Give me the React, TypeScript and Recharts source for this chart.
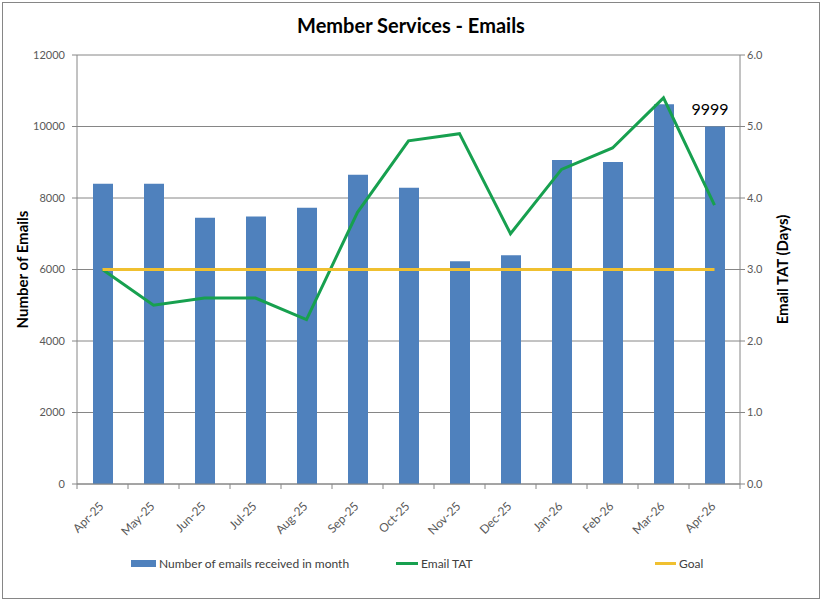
import { Bar, CartesianGrid, ComposedChart, Label, Legend, Line, XAxis, YAxis } from "recharts"

const months = [
  "Apr-25", "May-25", "Jun-25", "Jul-25", "Aug-25", "Sep-25", "Oct-25",
  "Nov-25", "Dec-25", "Jan-26", "Feb-26", "Mar-26", "Apr-26",
]
const emailsReceived = [8400, 8400, 7450, 7480, 7730, 8650, 8290, 6230, 6400, 9060, 9010, 10620, 9999]
const emailTat = [3.0, 2.5, 2.6, 2.6, 2.3, 3.8, 4.8, 4.9, 3.5, 4.4, 4.7, 5.4, 3.9]
const tatGoal = [3.0, 3.0, 3.0, 3.0, 3.0, 3.0, 3.0, 3.0, 3.0, 3.0, 3.0, 3.0, 3.0]
const emailTicks = [0, 2000, 4000, 6000, 8000, 10000, 12000]
const tatTicks = [0, 1, 2, 3, 4, 5, 6]

const data = months.map((month, i) => ({
  month,
  emails: emailsReceived[i],
  tat: emailTat[i],
  goal: tatGoal[i],
}))

const WIDTH = 822
const HEIGHT = 601
const LEFT_AXIS_W = 77
const RIGHT_AXIS_W = 82
const BAND = (WIDTH - LEFT_AXIS_W - RIGHT_AXIS_W) / months.length

const FONT = "Lato, 'Open Sans', sans-serif"
const GRID = "#868686"
const INK = "#595959"
const BLUE = "#4F81BD"
const GREEN = "#17A04F"
const GOLD = "#F0C030"

// month labels slanted at 45deg, with tick marks on the category boundaries
function MonthTick(props: any) {
  const { x, y, payload, index } = props
  const left = x - BAND / 2
  const last = index === months.length - 1
  const ax = x + 2
  const ay = y + 23
  return (
    <g>
      <line x1={left} y1={y} x2={left} y2={y + 5} stroke={GRID} />
      {last && <line x1={x + BAND / 2} y1={y} x2={x + BAND / 2} y2={y + 5} stroke={GRID} />}
      <text
        x={ax}
        y={ay}
        textAnchor="end"
        transform={`rotate(-45, ${ax}, ${ay})`}
        fontSize={12}
        fontFamily={FONT}
        fill={INK}
      >
        {payload.value}
      </text>
    </g>
  )
}

// only the latest month gets its count printed above the bar
function LatestLabel(props: any) {
  const { x, y, width, value, index } = props
  if (index !== months.length - 1) return null
  return (
    <text x={x + width / 2 - 5} y={y - 12} textAnchor="middle" fontSize={16} fontFamily={FONT} fill="#000">
      {value}
    </text>
  )
}

function AxisTitle({ cx, cy, text }: { cx: number; cy: number; text: string }) {
  return (
    <text
      x={cx}
      y={cy}
      textAnchor="middle"
      dominantBaseline="central"
      transform={`rotate(-90, ${cx}, ${cy})`}
      fontSize={15}
      fontWeight={700}
      fontFamily={FONT}
      fill="#000"
    >
      {text}
    </text>
  )
}

function ChartLegend() {
  const item = (left: number, marker: React.ReactNode, text: string) => (
    <div style={{ position: "absolute", left, top: 0, display: "flex", alignItems: "center", height: 20 }}>
      {marker}
      <span style={{ marginLeft: 3, fontSize: 12, color: "#404040", fontFamily: FONT }}>{text}</span>
    </div>
  )
  return (
    <div style={{ position: "relative", width: WIDTH, height: 20 }}>
      {item(131, <div style={{ width: 25, height: 7, background: BLUE }} />, "Number of emails received in month")}
      {item(396, <div style={{ width: 22, height: 3, background: GREEN }} />, "Email TAT")}
      {item(655, <div style={{ width: 21, height: 3, background: GOLD }} />, "Goal")}
    </div>
  )
}

export default function App() {
  return (
    <div style={{ position: "absolute", left: 0, top: 0, width: WIDTH, height: HEIGHT, background: "#fff" }}>
      <div
        style={{
          position: "absolute",
          left: 2,
          top: 2,
          width: WIDTH - 6,
          height: HEIGHT - 6,
          border: `1px solid ${GRID}`,
        }}
      />
      <div
        style={{
          position: "absolute",
          top: 13,
          width: WIDTH,
          textAlign: "center",
          fontFamily: FONT,
          fontWeight: 700,
          fontSize: 20,
          color: "#000",
        }}
      >
        Member Services - Emails
      </div>
      <ComposedChart width={WIDTH} height={HEIGHT} data={data} margin={{ top: 55, right: 0, bottom: 0, left: 0 }}>
        <CartesianGrid vertical={false} stroke={GRID} strokeWidth={1} yAxisId="emails" />
        <XAxis
          dataKey="month"
          height={117}
          interval={0}
          tickSize={0}
          tickMargin={0}
          tickLine={false}
          axisLine={{ stroke: GRID }}
          tick={<MonthTick />}
        />
        <YAxis
          yAxisId="emails"
          orientation="left"
          width={LEFT_AXIS_W}
          domain={[0, 12000]}
          ticks={emailTicks}
          tickSize={5}
          tickMargin={7}
          tickLine={{ stroke: GRID }}
          axisLine={{ stroke: GRID }}
          tick={{ fill: INK, fontSize: 11, fontFamily: FONT }}
        >
          <Label
            content={({ viewBox }: any) => (
              <AxisTitle cx={viewBox.x + 22} cy={viewBox.y + viewBox.height / 2} text="Number of Emails" />
            )}
          />
        </YAxis>
        <YAxis
          yAxisId="tat"
          orientation="right"
          width={RIGHT_AXIS_W}
          domain={[0, 6]}
          ticks={tatTicks}
          tickFormatter={(v: number) => v.toFixed(1)}
          tickSize={5}
          tickMargin={2}
          tickLine={{ stroke: GRID }}
          axisLine={{ stroke: GRID }}
          tick={{ fill: INK, fontSize: 11, fontFamily: FONT }}
        >
          <Label
            content={({ viewBox }: any) => (
              <AxisTitle cx={viewBox.x + 42} cy={viewBox.y + viewBox.height / 2} text="Email TAT (Days)" />
            )}
          />
        </YAxis>
        <Legend
          layout="horizontal"
          verticalAlign="middle"
          align="center"
          wrapperStyle={{ left: 0, top: 553, width: WIDTH, height: 20 }}
          content={() => <ChartLegend />}
        />
        <Bar
          yAxisId="emails"
          dataKey="emails"
          name="Number of emails received in month"
          fill={BLUE}
          barSize={20}
          isAnimationActive={false}
          label={<LatestLabel />}
        />
        <Line
          yAxisId="tat"
          dataKey="tat"
          name="Email TAT"
          stroke={GREEN}
          strokeWidth={3}
          dot={false}
          isAnimationActive={false}
        />
        <Line
          yAxisId="tat"
          dataKey="goal"
          name="Goal"
          stroke={GOLD}
          strokeWidth={3}
          dot={false}
          isAnimationActive={false}
        />
      </ComposedChart>
    </div>
  )
}
